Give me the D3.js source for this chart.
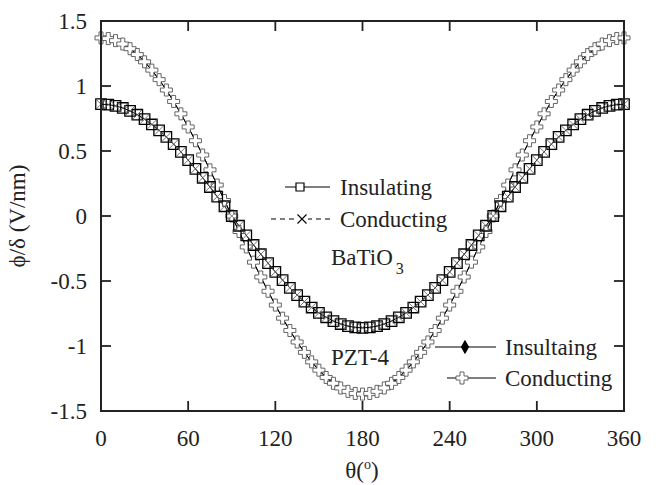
<!DOCTYPE html>
<html><head><meta charset="utf-8">
<script src="https://cdn.jsdelivr.net/npm/d3@7"></script>
<style>body{margin:0;background:#fff}svg{display:block}text{font-family:"Liberation Serif","Times New Roman",serif;fill:#222}</style>
</head><body>
<script>
const theta = d3.range(0, 361, 5);
const batio3Insulating = [0.86,0.857,0.847,0.831,0.808,0.779,0.745,0.704,0.659,0.608,0.553,0.493,0.43,0.363,0.294,0.223,0.149,0.075,0,-0.075,-0.149,-0.223,-0.294,-0.363,-0.43,-0.493,-0.553,-0.608,-0.659,-0.704,-0.745,-0.779,-0.808,-0.831,-0.847,-0.857,-0.86,-0.857,-0.847,-0.831,-0.808,-0.779,-0.745,-0.704,-0.659,-0.608,-0.553,-0.493,-0.43,-0.363,-0.294,-0.223,-0.149,-0.075,0,0.075,0.149,0.223,0.294,0.363,0.43,0.493,0.553,0.608,0.659,0.704,0.745,0.779,0.808,0.831,0.847,0.857,0.86];
const batio3Conducting = batio3Insulating.slice();
const pztConducting = [1.37,1.365,1.349,1.323,1.287,1.242,1.186,1.122,1.049,0.969,0.881,0.786,0.685,0.579,0.469,0.355,0.238,0.119,0,-0.119,-0.238,-0.355,-0.469,-0.579,-0.685,-0.786,-0.881,-0.969,-1.049,-1.122,-1.186,-1.242,-1.287,-1.323,-1.349,-1.365,-1.37,-1.365,-1.349,-1.323,-1.287,-1.242,-1.186,-1.122,-1.049,-0.969,-0.881,-0.786,-0.685,-0.579,-0.469,-0.355,-0.238,-0.119,0,0.119,0.238,0.355,0.469,0.579,0.685,0.786,0.881,0.969,1.049,1.122,1.186,1.242,1.287,1.323,1.349,1.365,1.37];
const pztInsulating = pztConducting.slice();
const xTicks = [0,60,120,180,240,300,360];
const yTicks = [-1.5,-1,-0.5,0,0.5,1,1.5];

const W=656,H=485;
const svg=d3.select("body").append("svg").attr("width",W).attr("height",H)
  .attr("font-family","'Liberation Serif', 'Times New Roman', serif");
const x=d3.scaleLinear().domain([0,360]).range([101,624]);
const y=d3.scaleLinear().domain([-1.5,1.5]).range([411,21]);
const FS=23;

const line=vals=>d3.line().x((d,i)=>x(theta[i])).y(d=>y(d))(vals);
const g=svg.append("g");

g.append("path").attr("d",line(pztInsulating)).attr("fill","none").attr("stroke","#000").attr("stroke-width",1);
g.append("path").attr("d",line(pztConducting)).attr("fill","none").attr("stroke","#000").attr("stroke-width",1);
g.append("path").attr("d",line(batio3Insulating)).attr("fill","none").attr("stroke","#000").attr("stroke-width",1);

const sq=d3.symbol().type(d3.symbolSquare).size(110)();
const cross=d3.symbol().type(d3.symbolCross).size(80)();
const dia=d3.symbol().type(d3.symbolDiamond).size(30)();
const xs=(s)=>`M${-s},${-s}L${s},${s}M${-s},${s}L${s},${-s}`;

g.selectAll(".pi").data(pztInsulating).join("path").attr("d",dia)
 .attr("transform",(d,i)=>`translate(${x(theta[i])},${y(d)})`).attr("fill","#000");
g.selectAll(".pc").data(pztConducting).join("path").attr("d",cross)
 .attr("transform",(d,i)=>`translate(${x(theta[i])},${y(d)})`).attr("fill","#fff").attr("stroke","#555").attr("stroke-width",0.9);
g.selectAll(".bi").data(batio3Insulating).join("path").attr("d",sq)
 .attr("transform",(d,i)=>`translate(${x(theta[i])},${y(d)})`).attr("fill","none").attr("stroke","#000").attr("stroke-width",1.3);
g.selectAll(".bc").data(batio3Conducting).join("path").attr("d",xs(5))
 .attr("transform",(d,i)=>`translate(${x(theta[i])},${y(d)})`).attr("fill","none").attr("stroke","#555").attr("stroke-width",0.8);

svg.append("rect").attr("x",101).attr("y",21).attr("width",523).attr("height",390).attr("fill","none").attr("stroke","#222").attr("stroke-width",2);
const tl=10;
xTicks.slice(1,-1).forEach(t=>{
  svg.append("line").attr("x1",x(t)).attr("x2",x(t)).attr("y1",411).attr("y2",411-tl).attr("stroke","#222").attr("stroke-width",1.8);
  svg.append("line").attr("x1",x(t)).attr("x2",x(t)).attr("y1",21).attr("y2",21+tl).attr("stroke","#222").attr("stroke-width",1.8);
});
yTicks.slice(1,-1).forEach(t=>{
  svg.append("line").attr("x1",101).attr("x2",101+tl).attr("y1",y(t)).attr("y2",y(t)).attr("stroke","#222").attr("stroke-width",1.8);
  svg.append("line").attr("x1",624).attr("x2",624-tl).attr("y1",y(t)).attr("y2",y(t)).attr("stroke","#222").attr("stroke-width",1.8);
});
xTicks.forEach(t=>svg.append("text").attr("x",x(t)).attr("y",446).attr("text-anchor","middle").attr("font-size",FS).text(t));
yTicks.forEach(t=>svg.append("text").attr("x",87).attr("y",y(t)+8).attr("text-anchor","end").attr("font-size",FS).text(String(t)));

const xt=svg.append("text").attr("x",362).attr("y",478).attr("text-anchor","middle").attr("font-size",FS);
xt.append("tspan").text("θ(");
xt.append("tspan").attr("font-size",14).attr("dy",-9).text("o");
xt.append("tspan").attr("dy",9).text(")");
svg.append("text").attr("transform","translate(25,216) rotate(-90)").attr("text-anchor","middle").attr("font-size",FS).text("ϕ/δ (V/nm)");

svg.append("line").attr("x1",285).attr("x2",330).attr("y1",187).attr("y2",187).attr("stroke","#000").attr("stroke-width",1.2);
svg.append("path").attr("d",d3.symbol().type(d3.symbolSquare).size(64)()).attr("transform","translate(300,187)").attr("fill","#fff").attr("stroke","#000").attr("stroke-width",1.2);
svg.append("text").attr("x",340).attr("y",195).attr("font-size",FS).text("Insulating");
svg.append("line").attr("x1",271).attr("x2",330).attr("y1",219).attr("y2",219).attr("stroke","#000").attr("stroke-width",1.2).attr("stroke-dasharray","5,4");
svg.append("rect").attr("x",296).attr("y",213).attr("width",12).attr("height",12).attr("fill","#fff");
svg.append("path").attr("d",xs(4.5)).attr("transform","translate(302,219)").attr("stroke","#000").attr("stroke-width",1.1);
svg.append("text").attr("x",340).attr("y",227).attr("font-size",FS).text("Conducting");

svg.append("line").attr("x1",435).attr("x2",496).attr("y1",347).attr("y2",347).attr("stroke","#000").attr("stroke-width",1.2);
svg.append("path").attr("d",d3.symbol().type(d3.symbolDiamond).size(60)()).attr("transform","translate(465,347)").attr("fill","#000");
svg.append("text").attr("x",505).attr("y",355).attr("font-size",FS).text("Insultaing");
svg.append("line").attr("x1",447).attr("x2",496).attr("y1",378).attr("y2",378).attr("stroke","#000").attr("stroke-width",1.2);
svg.append("path").attr("d",cross).attr("transform","translate(462,378)").attr("fill","#fff").attr("stroke","#555").attr("stroke-width",0.9);
svg.append("text").attr("x",505).attr("y",386).attr("font-size",FS).text("Conducting");

const bt=svg.append("text").attr("x",331).attr("y",265).attr("font-size",FS);
bt.append("tspan").text("BaTiO");
bt.append("tspan").attr("font-size",16).attr("dy",9).attr("dx",3).text("3");
svg.append("text").attr("x",331).attr("y",365).attr("font-size",FS).text("PZT-4");
</script>
</body></html>
